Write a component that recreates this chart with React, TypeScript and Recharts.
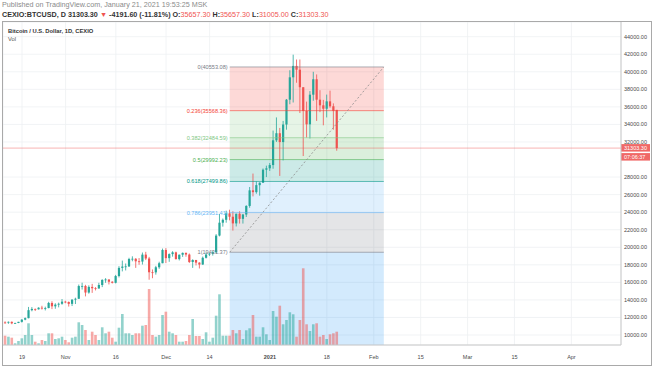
import React from 'react';
import {
  ComposedChart,
  Bar,
  XAxis,
  YAxis,
  CartesianGrid,
  ReferenceArea,
  ReferenceLine,
} from 'recharts';

// CEXIO:BTCUSD daily candles, 14 Oct 2020 .. 21 Jan 2021
// day numbers count from 19 Oct 2020
const firstDay = -5;

const opens = [
  11430, 11420, 11500, 11330, 11370, 11500, 11750, 11920, 12830, 12970,
  12930, 13110, 13030, 13070, 13650, 13270, 13460, 13560, 13800, 13760,
  13550, 14030, 14130, 15580, 15590, 14840, 15480, 15330, 15300, 15700,
  16280, 16330, 16070, 15950, 16720, 17650, 17800, 17820, 18660, 18690,
  18400, 18370, 19160, 18720, 17150, 17140, 17720, 18180, 19690, 18760,
  19220, 19420, 18650, 19150, 19360, 19170, 18320, 18550, 18250, 18030,
  18800, 19170, 19270, 19430, 21330, 22800, 23130, 23860, 23480, 22720,
  23820, 23240, 23730, 24710, 26490, 26280, 27080, 27360, 28840, 29000,
  29370, 32190, 33000, 31990, 33990, 36820, 39370, 40670, 40240, 38240,
  35540, 34010, 37390, 39150, 36820, 36180, 35790, 36630, 36070, 35657.3,
];
const highs = [
  11560, 11540, 11540, 11400, 11500, 11800, 12000, 13200, 13180, 13020,
  13160, 13330, 13230, 13780, 13850, 13620, 13690, 14100, 13900, 13820,
  14070, 14250, 15750, 15960, 15720, 15660, 15830, 15460, 15950, 16350,
  16480, 16330, 16130, 16850, 17850, 18480, 18150, 18800, 18970, 18760,
  18770, 19400, 19480, 18900, 17470, 17880, 18350, 19850, 19900, 19300,
  19550, 19500, 19170, 19400, 19400, 19290, 18630, 18560, 18290, 18940,
  19400, 19350, 19560, 21500, 23800, 23280, 24170, 24280, 24100, 23830,
  24100, 23800, 24790, 26870, 28400, 27500, 27400, 28980, 29300, 29600,
  33300, 34800, 33600, 34400, 36900, 40180, 41950, 41400, 41400, 38240,
  36600, 37800, 40000, 39700, 37900, 36800, 37400, 37850, 36400, 35657.3,
];
const lows = [
  11290, 11270, 11230, 11290, 11350, 11420, 11680, 11900, 12700, 12730,
  12900, 12900, 12800, 13050, 12950, 12990, 13150, 13450, 13620, 13240,
  13300, 13530, 14100, 15180, 14400, 14710, 14800, 15080, 15290, 15460,
  15950, 15760, 15870, 15880, 16560, 17250, 17360, 17750, 18400, 17650,
  18000, 18030, 18540, 16300, 16470, 16880, 17540, 18180, 18200, 18340,
  18930, 18600, 18500, 18900, 18920, 18200, 17650, 17930, 17580, 18000,
  18720, 19000, 19050, 19300, 21240, 22350, 22800, 23070, 21900, 22370,
  22700, 22700, 23450, 24500, 25800, 26100, 25880, 27330, 28000, 28700,
  28950, 32000, 28130, 29900, 33400, 36300, 36500, 38750, 35300, 30400,
  32500, 32400, 36700, 34400, 35400, 33900, 34800, 35900, 33400, 31005,
];
const closes = [
  11420, 11500, 11330, 11370, 11500, 11750, 11920, 12830, 12970, 12930,
  13110, 13030, 13070, 13650, 13270, 13460, 13560, 13800, 13760, 13550,
  14030, 14130, 15580, 15590, 14840, 15480, 15330, 15300, 15700, 16280,
  16330, 16070, 15950, 16720, 17650, 17800, 17820, 18660, 18690, 18400,
  18370, 19160, 18720, 17150, 17140, 17720, 18180, 19690, 18760, 19220,
  19420, 18650, 19150, 19360, 19170, 18320, 18550, 18250, 18030, 18800,
  19170, 19270, 19430, 21330, 22800, 23130, 23860, 23480, 22720, 23820,
  23240, 23730, 24710, 26490, 26280, 27080, 27360, 28840, 29000, 29370,
  32190, 33000, 31990, 33990, 36820, 39370, 40670, 40240, 38240, 35540,
  34010, 37390, 39150, 36820, 36180, 35790, 36630, 36070, 35550, 31303.3,
];
const volumes = [
  930, 830, 730, 170, 400, 670, 1000, 2170, 1000, 330,
  170, 500, 400, 1170, 1170, 600, 670, 830, 500, 270,
  730, 830, 2270, 2000, 1500, 500, 1330, 1000, 500, 1770,
  1170, 1330, 730, 330, 1730, 3100, 1170, 1170, 1000, 1170,
  1170, 1930, 2000, 5600, 1000, 830, 1000, 3000, 3330, 1330,
  1170, 1000, 330, 330, 400, 1000, 2600, 900, 900, 600,
  1270, 330, 730, 2930, 5070, 930, 930, 930, 1500, 1170,
  1500, 600, 1470, 1670, 3000, 830, 830, 1770, 1070, 500,
  3400, 2830, 3930, 2070, 2500, 3270, 3070, 830, 2500, 7670,
  2070, 1400, 2070, 2170, 830, 1000, 600, 1070, 1170, 1330,
];

// fibonacci retracement drawn from 20 Dec 2020 to 4 Feb 2021
const fibStart = 62;
const fibEnd = 108;
const fibLevels = [0, 0.236, 0.382, 0.5, 0.618, 0.786, 1, 1.618];
const fibPrices = [40553.08, 35568.36, 32484.59, 29992.23, 27499.86, 23951.41, 19431.37, 6378.15];
const fibColors = ['#787b86', '#f44336', '#81c784', '#4caf50', '#009688', '#64b5f6', '#787b86', '#2196f3'];

const lastPrice = 31303.3;

const priceTicks = [
  10000, 12000, 14000, 16000, 18000, 20000, 22000, 24000, 26000, 28000,
  32000, 34000, 36000, 38000, 40000, 42000, 44000,
];
const dayTicks = [0, 13, 28, 43, 56, 74, 91, 105, 119, 133, 147, 164];
const dayLabels = ['19', 'Nov', '16', 'Dec', '14', '2021', '18', 'Feb', '15', 'Mar', '15', 'Apr'];

const UP = '#26a69a';
const DOWN = '#ef5350';
const FONT = '"Liberation Sans", Arial, sans-serif';

const rows = opens.map((o, i) => ({
  t: firstDay + i,
  o,
  h: highs[i],
  l: lows[i],
  c: closes[i],
  v: volumes[i],
}));

const Candle = (props: any) => {
  const { x, y, width, height, payload } = props;
  if (x == null || y == null || !payload) return null;
  const { o, h, l, c } = payload;
  const py = (p: number) => y + ((h - p) / (h - l)) * height;
  const cx = x + width / 2;
  const col = c >= o ? UP : DOWN;
  const a = py(o);
  const b = py(c);
  const top = Math.min(a, b);
  const bh = Math.max(Math.abs(a - b), 0.8);
  return (
    <g>
      <line x1={cx} x2={cx} y1={py(h)} y2={py(l)} stroke={col} strokeWidth={0.8} />
      <rect x={cx - 1.1} y={top} width={2.2} height={bh} fill={col} />
    </g>
  );
};

const VolBar = (props: any) => {
  const { x, y, width, height, payload } = props;
  if (x == null || y == null || !payload) return null;
  const col = payload.c >= payload.o ? UP : DOWN;
  const cx = x + width / 2;
  return <rect x={cx - 1.3} y={y} width={2.6} height={Math.max(height, 0)} fill={col} fillOpacity={0.5} />;
};

const FibLabel = (props: any) => {
  const { viewBox, text, color } = props;
  if (!viewBox) return null;
  return (
    <text x={viewBox.x - 2} y={viewBox.y} dy={2} textAnchor="end" fontSize={5.6} fontFamily={FONT} fill={color}>
      {text}
    </text>
  );
};

const PriceTag = (props: any) => {
  const { viewBox } = props;
  if (!viewBox) return null;
  const left = viewBox.x + viewBox.width;
  const y = viewBox.y;
  return (
    <g fontFamily={FONT} fontSize={5.5} fill="#fff">
      <rect x={left} y={y - 4} width={29} height={7.5} fill="#f06866" />
      <text x={left + 3} y={y} dy={2}>{lastPrice.toFixed(2)}</text>
      <rect x={left} y={y + 5} width={29} height={7.5} fill="#f06866" />
      <text x={left + 3} y={y + 8.8} dy={2}>07:06:37</text>
    </g>
  );
};

const DayTick = (props: any) => {
  const { x, y, payload } = props;
  const i = dayTicks.indexOf(payload.value);
  const label = dayLabels[i];
  return (
    <text x={x} y={y} dy={6} textAnchor="middle" fontSize={5.5} fontFamily={FONT} fill="#4a4a4a"
      fontWeight={label === '2021' ? 'bold' : 'normal'}>
      {label}
    </text>
  );
};

export default function App() {
  const zones = fibLevels.slice(1).map((lv, i) => ({
    from: fibPrices[i],
    to: fibPrices[i + 1],
    color: fibColors[i + 1],
  }));
  return (
    <div style={{ position: 'absolute', left: 0, top: 0, width: 654, height: 366, background: '#fff', fontFamily: FONT, overflow: 'hidden' }}>
      <div style={{ position: 'absolute', left: 2, top: 0, fontSize: 7.2, color: '#8a8a8a', whiteSpace: 'nowrap' }}>
        Published on TradingView.com, January 21, 2021 19:53:25 MSK
      </div>
      <div style={{ position: 'absolute', left: 2, top: 9.5, fontSize: 7.2, color: '#333', whiteSpace: 'nowrap' }}>
        <b>CEXIO:BTCUSD, D 31303.30 </b>
        <span style={{ color: DOWN }}>▼</span>
        <b> -4191.60 (-11.81%) O:</b>
        <span style={{ color: DOWN }}>35657.30 </span>
        <b>H:</b>
        <span style={{ color: DOWN }}>35657.30 </span>
        <b>L:</b>
        <span style={{ color: DOWN }}>31005.00 </span>
        <b>C:</b>
        <span style={{ color: DOWN }}>31303.30</span>
      </div>
      <div style={{ position: 'absolute', left: 0, top: 0 }}>
        <ComposedChart width={654} height={366} data={rows} margin={{ top: 22, right: 3, left: 3, bottom: 1 }}>
          <CartesianGrid stroke="#eef0f3" strokeWidth={0.8} />
          <XAxis
            dataKey="t"
            type="number"
            domain={[-5.67, 178.8]}
            ticks={dayTicks}
            tick={<DayTick />}
            height={20}
            tickLine={false}
            axisLine={{ stroke: '#c8c8c8' }}
            interval={0}
            allowDataOverflow
          />
          <XAxis xAxisId="v" dataKey="t" type="number" domain={[-5.67, 178.8]} hide allowDataOverflow />
          <YAxis
            orientation="right"
            domain={[8860, 45675]}
            ticks={priceTicks}
            width={30}
            tickSize={0}
            tickMargin={3}
            tickLine={false}
            axisLine={{ stroke: '#c8c8c8' }}
            tickFormatter={(v: number) => v.toFixed(2)}
            tick={{ fontSize: 5.5, fill: '#4a4a4a', fontFamily: FONT }}
            interval={0}
            allowDataOverflow
          />
          <YAxis yAxisId="v" domain={[0, 32300]} hide />
          {zones.map((z, i) => (
            <ReferenceArea
              key={'z' + i}
              x1={fibStart}
              x2={fibEnd}
              y1={z.from}
              y2={z.to}
              fill={z.color}
              fillOpacity={0.2}
              stroke="none"
              ifOverflow="hidden"
            />
          ))}
          {fibLevels.slice(0, 7).map((lv, i) => (
            <ReferenceLine
              key={'f' + i}
              segment={[{ x: fibStart, y: fibPrices[i] }, { x: fibEnd, y: fibPrices[i] }]}
              stroke={fibColors[i]}
              strokeOpacity={0.75}
              strokeWidth={0.8}
              label={<FibLabel text={`${lv}(${fibPrices[i].toFixed(2)})`} color={fibColors[i]} />}
            />
          ))}
          <ReferenceLine
            segment={[{ x: fibStart, y: fibPrices[6] }, { x: fibEnd, y: fibPrices[0] }]}
            stroke="#8c8c8c"
            strokeWidth={0.8}
            strokeDasharray="2 2"
          />
          <ReferenceLine
            y={lastPrice}
            stroke={DOWN}
            strokeOpacity={0.55}
            strokeWidth={0.8}
            label={<PriceTag />}
          />
          <Bar xAxisId="v" yAxisId="v" dataKey="v" barSize={3} shape={<VolBar />} isAnimationActive={false} />
          <Bar dataKey={(d: any) => [d.l, d.h]} barSize={3} shape={<Candle />} isAnimationActive={false} />
        </ComposedChart>
      </div>
      <div style={{ position: 'absolute', left: 8, top: 28, fontSize: 5.8, fontWeight: 'bold', color: '#333', whiteSpace: 'nowrap' }}>
        Bitcoin / U.S. Dollar, 1D, CEXIO
      </div>
      <div style={{ position: 'absolute', left: 8, top: 36, fontSize: 5.8, color: '#555' }}>Vol</div>
      <div style={{ position: 'absolute', left: 2, top: 21, width: 650, height: 345, border: '1px solid #a9a9a9', boxSizing: 'border-box', pointerEvents: 'none' }} />
    </div>
  );
}
